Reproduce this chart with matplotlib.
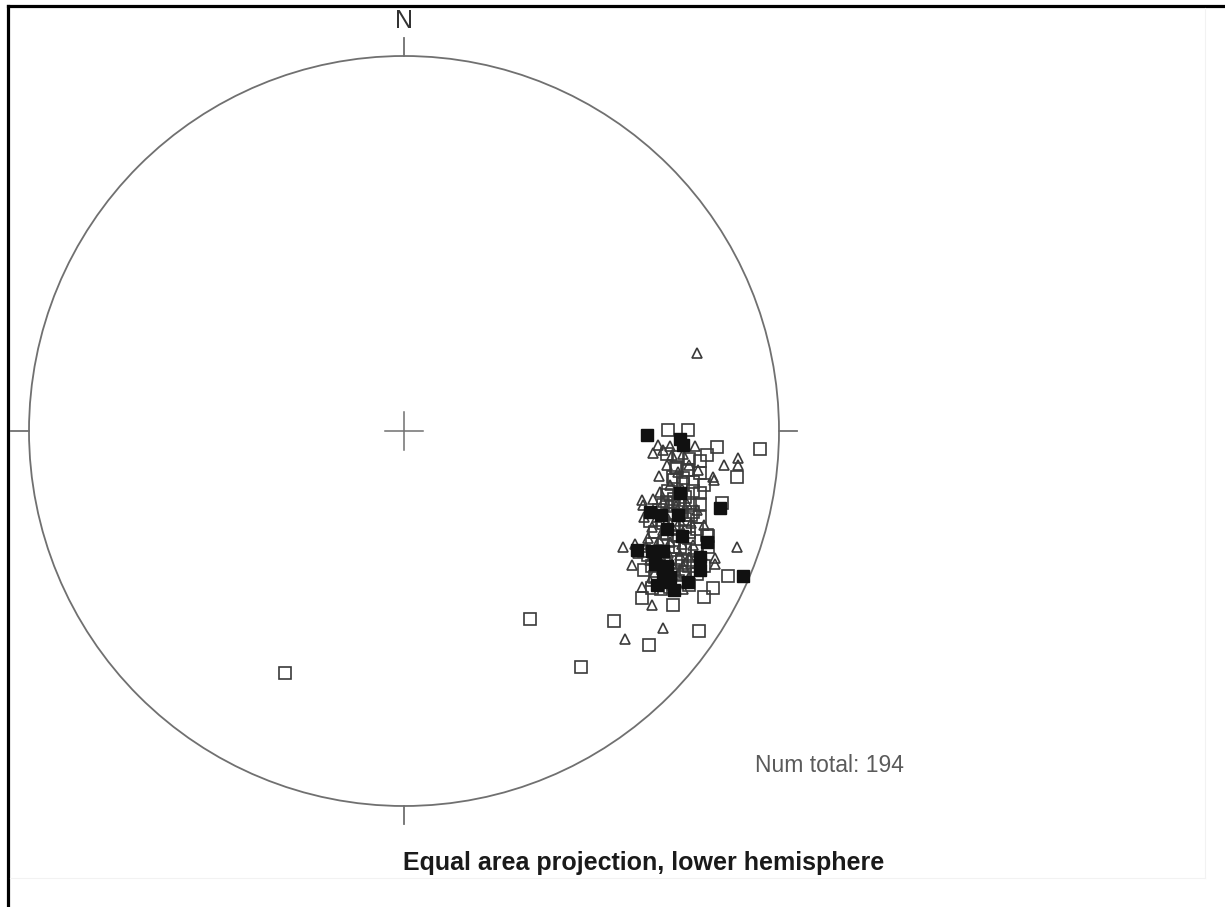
import numpy as np
import matplotlib
matplotlib.use('Agg')
import matplotlib.pyplot as plt
from matplotlib.patches import Circle
from matplotlib.lines import Line2D

plt.rcParams['font.family'] = ['Liberation Sans', 'DejaVu Sans']

# pole positions on the unit net (east, north), lower hemisphere equal area
open_sq_e = [-0.317, 0.336, 0.472, 0.56, 0.653, 0.787, 0.717, 0.635, 0.80, 0.704,
             0.757, 0.835, 0.949, 0.808, 0.888, 0.789, 0.728, 0.757, 0.717, 0.789,
             0.691, 0.763, 0.848, 0.808, 0.864, 0.824, 0.661, 0.731,
             0.70, 0.73, 0.76, 0.79, 0.72, 0.745, 0.77, 0.80,
             0.70, 0.72, 0.75, 0.77, 0.68, 0.71, 0.74, 0.765, 0.79, 0.69, 0.72, 0.75, 0.78,
             0.67, 0.70, 0.73, 0.76,
             0.66, 0.69, 0.72, 0.75, 0.78, 0.65, 0.68, 0.71, 0.74, 0.77, 0.66, 0.69, 0.72,
             0.75, 0.78, 0.67, 0.70, 0.73, 0.76, 0.64, 0.80, 0.81, 0.655, 0.71, 0.685,
             0.725, 0.755, 0.70, 0.735, 0.79,
             0.745, 0.705, 0.75, 0.76, 0.72, 0.64, 0.725, 0.745, 0.76, 0.78,
             0.735, 0.77, 0.715, 0.81]
open_sq_n = [-0.645, -0.501, -0.629, -0.507, -0.571, -0.533, -0.464, -0.445, -0.443, 0.003,
             0.003, -0.043, -0.048, -0.064, -0.123, -0.112, -0.099, -0.104, -0.123, -0.165,
             -0.197, -0.197, -0.192, -0.277, -0.387, -0.419, -0.419, -0.192,
             -0.06, -0.07, -0.075, -0.08, -0.13, -0.14, -0.135, -0.145,
             -0.17, -0.18, -0.175, -0.16, -0.21, -0.22, -0.215, -0.225, -0.23, -0.245, -0.25, -0.255, -0.26,
             -0.27, -0.275, -0.28, -0.285,
             -0.30, -0.305, -0.31, -0.315, -0.32, -0.33, -0.335, -0.34, -0.345, -0.35, -0.36, -0.365, -0.37,
             -0.375, -0.38, -0.39, -0.395, -0.40, -0.41, -0.37, -0.36, -0.28, -0.24, -0.415, -0.42,
             -0.095, -0.105, -0.19, -0.195, -0.195,
             -0.125, -0.16, -0.235, -0.27, -0.29, -0.32, -0.35, -0.385, -0.36, -0.345,
             -0.31, -0.215, -0.20, -0.31]

tri_e = [0.781, 0.677, 0.709, 0.664, 0.776, 0.853, 0.891, 0.891, 0.824, 0.827,
         0.683, 0.635, 0.637, 0.584, 0.888, 0.829, 0.829, 0.635, 0.661, 0.691,
         0.589, 0.608,
         0.69, 0.715, 0.745, 0.70, 0.73, 0.76, 0.785, 0.68, 0.71, 0.74,
         0.665, 0.69, 0.725, 0.755, 0.78, 0.675, 0.705, 0.735, 0.765, 0.66,
         0.69, 0.72, 0.745, 0.65, 0.68, 0.71, 0.74, 0.77, 0.645, 0.675,
         0.705, 0.735, 0.76, 0.655, 0.685, 0.715, 0.745, 0.67, 0.70, 0.73,
         0.76, 0.685, 0.715, 0.745, 0.655, 0.625, 0.80, 0.795, 0.64, 0.615]
tri_n = [0.208, -0.037, -0.04, -0.059, -0.04, -0.091, -0.072, -0.091, -0.123, -0.131,
         -0.163, -0.184, -0.197, -0.309, -0.309, -0.339, -0.355, -0.416, -0.464, -0.525,
         -0.555, -0.357,
         -0.05, -0.065, -0.06, -0.09, -0.11, -0.09, -0.105, -0.12, -0.145, -0.155,
         -0.18, -0.19, -0.20, -0.195, -0.21, -0.23, -0.235, -0.24, -0.245, -0.255,
         -0.265, -0.265, -0.27, -0.285, -0.29, -0.295, -0.30, -0.305, -0.31, -0.315,
         -0.325, -0.33, -0.335, -0.345, -0.35, -0.355, -0.36, -0.375, -0.38, -0.385,
         -0.39, -0.405, -0.41, -0.42, -0.40, -0.325, -0.25, -0.33, -0.23, -0.30]

fill_sq_e = [0.648, 0.744, 0.736, 0.843, 0.621, 0.808, 0.789, 0.904, 0.757, 0.696,
             0.735, 0.73, 0.70, 0.685, 0.69, 0.66, 0.70, 0.67, 0.71, 0.69,
             0.675, 0.72, 0.655, 0.79, 0.74]
fill_sq_n = [-0.011, -0.037, -0.165, -0.205, -0.317, -0.296, -0.336, -0.387, -0.403, -0.403,
             -0.02, -0.225, -0.26, -0.225, -0.32, -0.32, -0.36, -0.355, -0.39, -0.385,
             -0.41, -0.425, -0.215, -0.37, -0.28]

n_total = len(open_sq_e) + len(tri_e) + len(fill_sq_e)

W, H = 1225, 907
cx, cy, R = 404, 431, 375
fig = plt.figure(figsize=(W / 100, H / 100), dpi=100)
ax = fig.add_axes([0, 0, 1, 1])
ax.set_xlim(-cx / R, (W - cx) / R)
ax.set_ylim((cy - H) / R, cy / R)
ax.axis('off')

net_col = '#707070'
ax.add_patch(Circle((0, 0), 1, fill=False, ec=net_col, lw=1.3))
tk = 0.048
ax.plot([0, 0], [1, 1 + tk], color=net_col, lw=1.3)
ax.plot([0, 0], [-1, -1 - tk], color=net_col, lw=1.3)
ax.plot([-1, -1 - tk], [0, 0], color=net_col, lw=1.3)
ax.plot([1, 1 + tk], [0, 0], color=net_col, lw=1.3)
c = 0.051
ax.plot([-c, c], [0, 0], color=net_col, lw=1.1)
ax.plot([0, 0], [-c, c], color=net_col, lw=1.1)

ax.plot(open_sq_e, open_sq_n, 's', ms=8.3, mfc='none', mec='#3a3a3a', mew=1.2)
ax.plot(tri_e, tri_n, '^', ms=7.8, mfc='none', mec='#3a3a3a', mew=1.2)
ax.plot(fill_sq_e, fill_sq_n, 's', ms=8.3, mfc='#111111', mec='#111111', mew=1.0)

ax.text(0, 1.075, 'N', ha='center', va='baseline', fontsize=18, color='#333333')
ax.text(0.936, -0.909, f'Num total: {n_total}', ha='left', va='baseline',
        fontsize=16.5, color='#5a5a5a')
ax.text(0.64, -1.171, 'Equal area projection, lower hemisphere', ha='center',
        va='baseline', fontsize=18, fontweight='bold', color='#1a1a1a')

# frame
fig.add_artist(Line2D([8 / W, 1], [1 - 6 / H, 1 - 6 / H], color='black', lw=2.3,
                      transform=fig.transFigure))
fig.add_artist(Line2D([8 / W, 8 / W], [0, 1 - 6 / H], color='black', lw=2.3,
                      transform=fig.transFigure))
fig.add_artist(Line2D([1205 / W, 1205 / W], [1 - 878 / H, 1 - 8 / H], color='#f2f2f2',
                      lw=0.8, transform=fig.transFigure))
fig.add_artist(Line2D([10 / W, 1205 / W], [1 - 878 / H, 1 - 878 / H], color='#f2f2f2',
                      lw=0.8, transform=fig.transFigure))

fig.savefig('out.png', dpi=100)
plt.close(fig)
